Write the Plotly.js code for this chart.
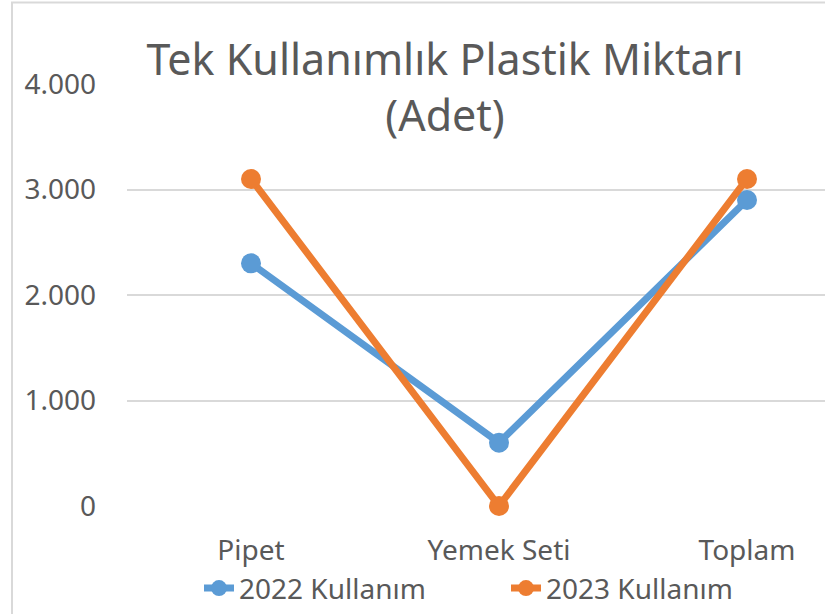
<!DOCTYPE html>
<html>
<head>
<meta charset="utf-8">
<script src="https://cdn.plot.ly/plotly-3.0.1.min.js"></script>
<style>html,body{margin:0;padding:0;background:#fff;}#chart{width:825px;height:614px;}</style>
</head>
<body>
<div id="chart"></div>
<script>
const categories = ["Pipet", "Yemek Seti", "Toplam"];
const series2022 = [2300, 600, 2900];
const series2023 = [3100, 0, 3100];
const seriesNames = ["2022 Kullanım", "2023 Kullanım"];
const yTickValues = [0, 1000, 2000, 3000, 4000];
const titleText = "Tek Kullanımlık Plastik Miktarı<br>(Adet)";

const FONT = "Noto Sans, Open Sans, sans-serif";
const TXT = "#595959";
const BLUE = "#5B9BD5";
const ORANGE = "#ED7D31";

const traces = [
  {x: categories, y: series2022, name: seriesNames[0], type: "scatter", mode: "lines+markers",
   line: {color: BLUE, width: 7}, marker: {color: BLUE, size: 20}, cliponaxis: false},
  {x: categories, y: series2023, name: seriesNames[1], type: "scatter", mode: "lines+markers",
   line: {color: ORANGE, width: 7}, marker: {color: ORANGE, size: 20}, cliponaxis: false}
];

const L = 127, R = 0, T = 84, B = 105;
const W = 825, H = 614;
const pw = W - L - R, ph = H - T - B;
const px2x = p => (p - L) / pw;
const py2y = p => (H - B - p) / ph;

const layout = {
  width: W, height: H,
  margin: {l: L, r: R, t: T, b: B, pad: 0},
  paper_bgcolor: "#ffffff", plot_bgcolor: "#ffffff",
  separators: ",.",
  font: {family: FONT, color: TXT, size: 28},
  title: {text: titleText, font: {family: FONT, size: 43, color: TXT},
          x: 445 / W, xanchor: "center", xref: "container",
          y: 1 - 75 / H, yanchor: "top", yref: "container"},
  xaxis: {type: "category", range: [-0.5, 2 + (W - 747) / 248], showgrid: false, zeroline: false,
          showline: false, ticks: "", tickfont: {family: FONT, size: 28, color: TXT},
          ticklabelstandoff: 25, fixedrange: true},
  yaxis: {range: [0, 4000], tickvals: yTickValues, tickformat: ",d", showgrid: true,
          gridcolor: "#D9D9D9", gridwidth: 2, zeroline: false, showline: false, ticks: "",
          tickfont: {family: FONT, size: 28, color: TXT}, ticklabelstandoff: 30, fixedrange: true},
  showlegend: true,
  legend: {orientation: "h", x: px2x(199), xanchor: "left", y: py2y(592), yanchor: "middle",
           font: {family: FONT, size: 28, color: TXT}, bgcolor: "rgba(0,0,0,0)", itemwidth: 30,
           entrywidth: 262, entrywidthmode: "pixels", traceorder: "normal"},
  shapes: [
    {type: "rect", xref: "paper", yref: "paper", x0: px2x(12), x1: px2x(900), y0: py2y(700), y1: py2y(2),
     line: {color: "#D9D9D9", width: 2}, fillcolor: "rgba(0,0,0,0)", layer: "below"}
  ]
};

Plotly.newPlot("chart", traces, layout, {displayModeBar: false, staticPlot: true});
</script>
</body>
</html>
